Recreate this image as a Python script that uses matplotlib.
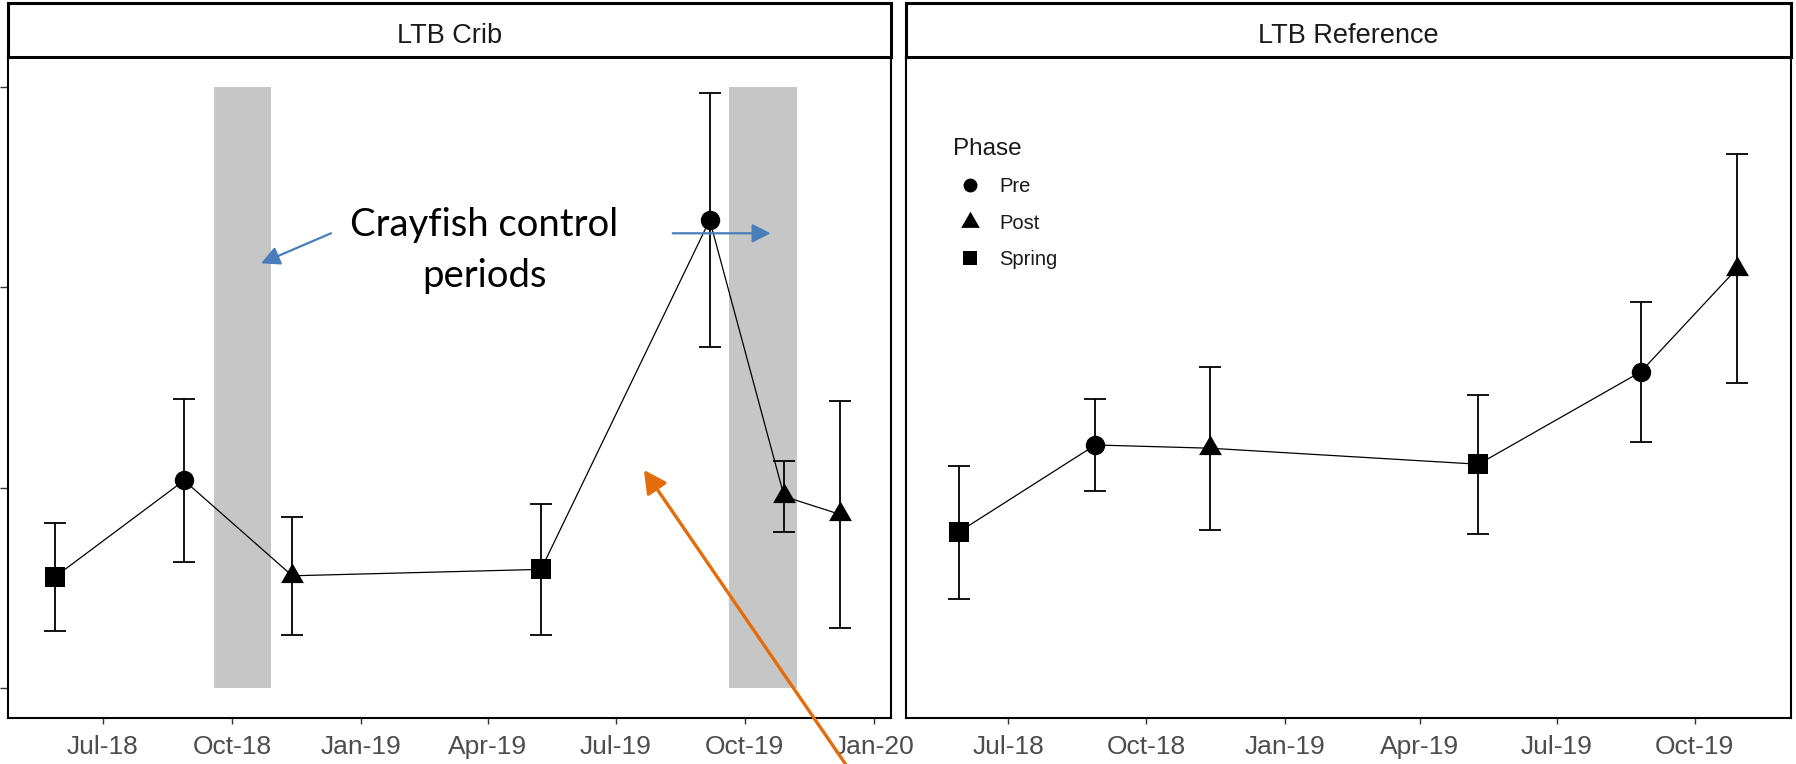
import numpy as np
import pandas as pd
import matplotlib
matplotlib.use("Agg")
import matplotlib.pyplot as plt
import matplotlib.dates as mdates
from matplotlib.path import Path
from matplotlib.lines import Line2D

# ---- data -------------------------------------------------------------
crib_dates = ["2018-05-28", "2018-08-28", "2018-11-13", "2019-05-09",
              "2019-09-06", "2019-10-29", "2019-12-08"]
crib_phase = ["Spring", "Pre", "Post", "Spring", "Pre", "Post", "Post"]
crib_mean = [0.554, 1.036, 0.560, 0.592, 2.336, 0.956, 0.866]
crib_se = [0.268, 0.407, 0.295, 0.327, 0.632, 0.176, 0.568]

ref_dates = ["2018-05-29", "2018-08-28", "2018-11-12", "2019-05-10",
             "2019-08-26", "2019-10-29"]
ref_phase = ["Spring", "Pre", "Post", "Spring", "Pre", "Post"]
ref_mean = [0.778, 1.213, 1.197, 1.117, 1.578, 2.093]
ref_se = [0.332, 0.230, 0.407, 0.348, 0.348, 0.572]

control_start = ["2018-09-18", "2019-09-20"]
control_end = ["2018-10-29", "2019-11-07"]

phases = ["Pre", "Post", "Spring"]
panel_titles = ["LTB Crib", "LTB Reference"]
y_ticks = [0, 1, 2, 3]

# ---- styling ----------------------------------------------------------
plt.rcParams["font.family"] = ["Liberation Sans", "DejaVu Sans"]
W, H = 1796, 764
fig = plt.figure(figsize=(W / 100, H / 100), dpi=100)


def px_rect(x0, y0, x1, y1):
    return [x0 / W, 1 - y1 / H, (x1 - x0) / W, (y1 - y0) / H]


tri = Path([(0, 1), (-0.866, -0.5), (0.866, -0.5), (0, 1)],
           [Path.MOVETO, Path.LINETO, Path.LINETO, Path.CLOSEPOLY])
markers = {"Pre": ("o", 14), "Post": (tri, 19), "Spring": ("s", 14.5)}
legend_ms = {"Pre": 10, "Post": 15.5, "Spring": 10}

axL = fig.add_axes(px_rect(8.4, 57, 891, 718))
axR = fig.add_axes(px_rect(906, 57, 1791, 718))
stripL = fig.add_axes(px_rect(8.4, 3, 891, 57))
stripR = fig.add_axes(px_rect(906, 3, 1791, 57))

xlims = [("2018-04-25", "2020-01-13"), ("2018-04-24", "2019-12-04")]

series = [(crib_dates, crib_phase, crib_mean, crib_se),
          (ref_dates, ref_phase, ref_mean, ref_se)]

for ax, strip, title, (dts, ph, mean, se), lim in zip(
        [axL, axR], [stripL, stripR], panel_titles, series, xlims):
    x = pd.to_datetime(dts)
    mean = np.asarray(mean)
    se = np.asarray(se)
    ax.errorbar(x, mean, yerr=se, fmt="none", ecolor="black",
                elinewidth=1.3, capsize=7.8, capthick=1.3, zorder=3)
    ax.plot(x, mean, color="black", lw=0.9, zorder=3)
    for p in phases:
        idx = [i for i, v in enumerate(ph) if v == p]
        if idx:
            m, ms = markers[p]
            ax.plot(x[idx], mean[idx], linestyle="none", marker=m,
                    markersize=ms, color="black", mec="black", mew=0,
                    zorder=4)
    ax.set_xlim(pd.Timestamp(lim[0]), pd.Timestamp(lim[1]))
    ax.set_ylim(-0.15, 3.15)
    ax.xaxis.set_major_locator(mdates.MonthLocator(bymonth=[1, 4, 7, 10]))
    ax.xaxis.set_major_formatter(mdates.DateFormatter("%b-%y"))
    ax.tick_params(axis="x", length=4.5, width=1.0, color="#333333",
                   labelsize=19, labelcolor="#4D4D4D", pad=7.5)
    for s in ax.spines.values():
        s.set_linewidth(1.5)
        s.set_color("black")

    strip.set_xticks([])
    strip.set_yticks([])
    for s in strip.spines.values():
        s.set_linewidth(2.2)
        s.set_color("black")
    strip.text(0.5, 0.26, title, ha="center", va="baseline", fontsize=19.5,
               color="#1A1A1A", transform=strip.transAxes)

# Crayfish control periods on the crib panel
for s0, s1 in zip(control_start, control_end):
    axL.fill_between([pd.Timestamp(s0), pd.Timestamp(s1)], y_ticks[0],
                     y_ticks[-1], color="#C6C6C6", lw=0, zorder=1)

axL.set_yticks(y_ticks)
axL.tick_params(axis="y", length=6, width=1.0, color="#333333",
                labelleft=False)
axR.set_yticks([])

# Legend
handles = [Line2D([], [], linestyle="none", marker=markers[p][0],
                  markersize=legend_ms[p], color="black", mew=0)
           for p in phases]
leg = axR.legend(handles, phases, title="Phase", loc="upper left",
                 bbox_to_anchor=((952.7 - 906) / 885, (718 - 138) / 661),
                 frameon=False, fontsize=14.5, title_fontsize=17.5,
                 borderpad=0, borderaxespad=0, handlelength=1.7,
                 handletextpad=0.6, labelspacing=0.86, alignment="left")
leg.get_title().set_color("#1A1A1A")
for t in leg.get_texts():
    t.set_color("#1A1A1A")

# Annotations
note_font = ["Lato", "DejaVu Sans"]
axL.text(0.539, 0.729, "Crayfish control", transform=axL.transAxes,
         ha="center", va="baseline", fontsize=27.5, family=note_font,
         color="black", zorder=6)
axL.text(0.539, 0.652, "periods", transform=axL.transAxes,
         ha="center", va="baseline", fontsize=27.5, family=note_font,
         color="black", zorder=6)

blue = "#4A7EBB"
arrow_blue = dict(arrowstyle="-|>,head_length=0.75,head_width=0.38",
                  color=blue, lw=1.6, shrinkA=0, shrinkB=0,
                  mutation_scale=15)
axL.annotate("", xy=(0.2862, 0.6879), xytext=(0.3655, 0.7333),
             xycoords="axes fraction", textcoords="axes fraction",
             arrowprops=arrow_blue, zorder=6)
axL.annotate("", xy=(0.8637, 0.7333), xytext=(0.7527, 0.7333),
             xycoords="axes fraction", textcoords="axes fraction",
             arrowprops=arrow_blue, zorder=6)

orange = "#E46C0A"
axL.annotate("", xy=(0.7201, 0.3752), xytext=(853, -11),
             xycoords="axes fraction", textcoords="figure pixels",
             arrowprops=dict(arrowstyle="-|>,head_length=0.8,head_width=0.42",
                             color=orange, lw=2.4, shrinkA=0, shrinkB=0,
                             mutation_scale=17),
             annotation_clip=False, zorder=7)

fig.savefig("out.png", dpi=100)
